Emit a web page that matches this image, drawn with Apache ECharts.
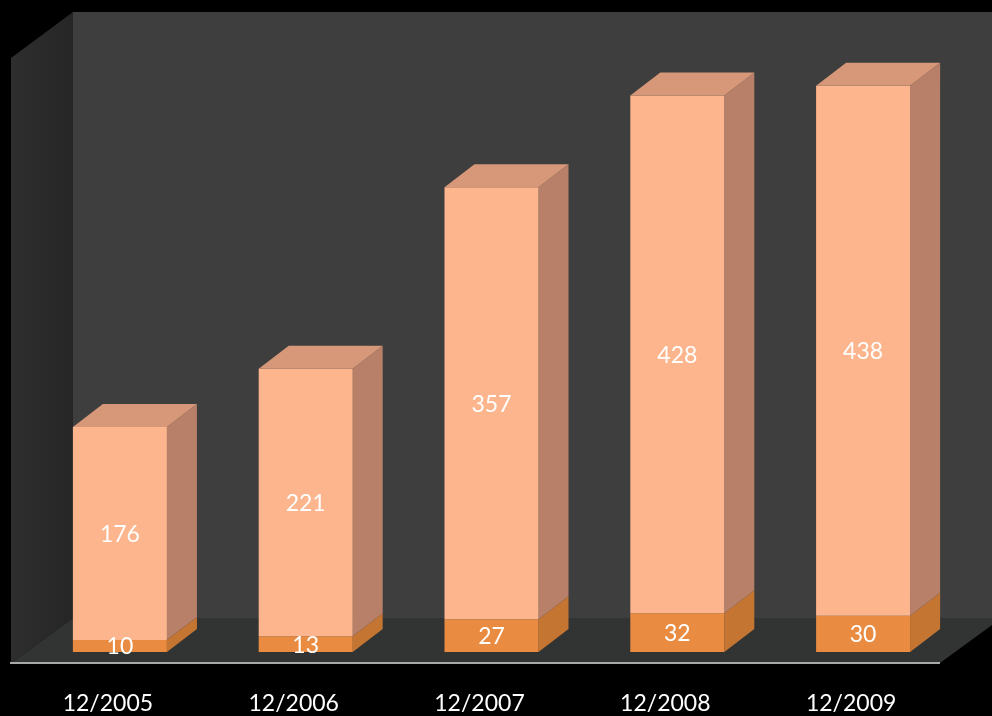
<!DOCTYPE html>
<html>
<head>
<meta charset="utf-8">
<script src="https://cdn.jsdelivr.net/npm/echarts@6/dist/echarts.min.js"></script>
<style>
html,body{margin:0;padding:0;background:#000;}
#chart{width:992px;height:716px;}
</style>
</head>
<body>
<div id="chart"></div>
<script>
const categories = ['12/2005', '12/2006', '12/2007', '12/2008', '12/2009'];
const lowerValues = [10, 13, 27, 32, 30];
const upperValues = [176, 221, 357, 428, 438];

const DX = 30, DY = -23;
const FONT = 'Lato, "Open Sans", sans-serif';

function makeRender(front, side, top, drawTop) {
  return function (params, api) {
    const i = api.value(0);
    const base = api.value(1);
    const v = api.value(2);
    const p0 = api.coord([i, base]);
    const p1 = api.coord([i, base + v]);
    const w = api.size([1, 0])[0] * 0.506;
    const x0 = p0[0] - w / 2, x1 = p0[0] + w / 2;
    const yb = p0[1], yt = p1[1];
    const children = [
      {
        type: 'polygon',
        shape: { points: [[x1, yb], [x1 + DX, yb + DY], [x1 + DX, yt + DY], [x1, yt]] },
        style: { fill: side }
      },
      {
        type: 'rect',
        shape: { x: x0, y: yt, width: w, height: yb - yt },
        style: { fill: front }
      }
    ];
    if (drawTop) {
      children.push({
        type: 'polygon',
        shape: { points: [[x0, yt], [x0 + DX, yt + DY], [x1 + DX, yt + DY], [x1, yt]] },
        style: { fill: top }
      });
    }
    children.push({
      type: 'text',
      z2: 10,
      style: {
        text: String(v),
        x: (x0 + x1) / 2,
        y: (yb + yt) / 2 + 1,
        align: 'center',
        verticalAlign: 'middle',
        fill: '#ffffff',
        font: '23px ' + FONT
      }
    });
    return { type: 'group', children: children };
  };
}

const lowerData = categories.map((c, i) => [i, 0, lowerValues[i]]);
const upperData = categories.map((c, i) => [i, lowerValues[i], upperValues[i]]);

const chart = echarts.init(document.getElementById('chart'), null, { renderer: 'canvas' });
chart.setOption({
  backgroundColor: '#000000',
  animation: false,
  graphic: [
    { type: 'polygon', z: -10, shape: { points: [[73, 12], [992, 12], [992, 618], [73, 618]] }, style: { fill: '#3e3e3e' } },
    { type: 'polygon', z: -10, shape: { points: [[11, 58], [73, 12], [73, 618], [11, 663]] },
      style: { fill: new echarts.graphic.LinearGradient(0, 0, 1, 0, [{ offset: 0, color: '#2e2e2e' }, { offset: 1, color: '#262626' }]) } },
    { type: 'polygon', z: -10, shape: { points: [[11, 663], [73, 618], [992, 618], [992, 625], [940, 663]] }, style: { fill: '#323434' } },
    { type: 'line', z: -9, shape: { x1: 10, y1: 663, x2: 940, y2: 663 }, style: { stroke: '#a8a8a8', lineWidth: 2 } }
  ],
  grid: { left: 27, right: 36, top: 47, bottom: 64 },
  xAxis: {
    type: 'category',
    data: categories,
    axisLine: { show: false },
    axisTick: { show: false },
    axisLabel: {
      color: '#ffffff',
      fontSize: 23,
      fontFamily: FONT,
      margin: 40,
      padding: [0, 24, 0, 0]
    }
  },
  yAxis: {
    type: 'value',
    min: 0,
    max: 500,
    show: false,
    splitLine: { show: false }
  },
  series: [
    {
      type: 'custom',
      name: 'lower',
      renderItem: makeRender('#e98b41', '#c57532', '#d98a4a', false),
      encode: { x: 0, y: [1, 2] },
      data: lowerData
    },
    {
      type: 'custom',
      name: 'upper',
      renderItem: makeRender('#fcb58c', '#b88069', '#d69878', true),
      encode: { x: 0, y: [1, 2] },
      data: upperData
    }
  ]
});
</script>
</body>
</html>
